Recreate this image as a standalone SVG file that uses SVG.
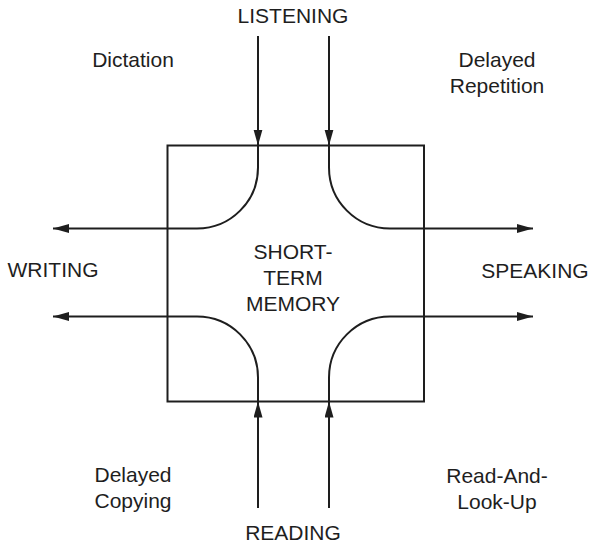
<svg xmlns="http://www.w3.org/2000/svg" width="590" height="545" viewBox="0 0 590 545">
  <style>
    .ln { fill: none; stroke: #1e1e1e; stroke-width: 2; }
    .lbl { font-family: "Liberation Sans", Arial, sans-serif; font-size: 21px; fill: #1e1e1e; text-anchor: middle; }
  </style>
  <defs>
    <marker id="arrow" markerUnits="userSpaceOnUse" markerWidth="17" markerHeight="10" refX="16" refY="4.5" orient="auto">
      <path d="M0,0 L16,4.5 L0,9 Z" fill="#1e1e1e"/>
    </marker>
  </defs>
  <rect width="590" height="545" fill="#ffffff"/>

  <!-- central store -->
  <g id="memory">
    <rect class="ln" x="167.5" y="145.5" width="256.5" height="256"/>
    <text class="lbl" x="293" y="259">SHORT-</text>
    <text class="lbl" x="293" y="285">TERM</text>
    <text class="lbl" x="293" y="311">MEMORY</text>
  </g>

  <!-- skill labels -->
  <g id="listening"><text class="lbl" x="293" y="23">LISTENING</text></g>
  <g id="reading"><text class="lbl" x="293" y="540">READING</text></g>
  <g id="writing"><text class="lbl" x="53" y="277">WRITING</text></g>
  <g id="speaking"><text class="lbl" x="535" y="278">SPEAKING</text></g>

  <!-- activity labels -->
  <g id="dictation"><text class="lbl" x="133" y="67">Dictation</text></g>
  <g id="delayed-repetition">
    <text class="lbl" x="497" y="67">Delayed</text>
    <text class="lbl" x="497" y="93">Repetition</text>
  </g>
  <g id="delayed-copying">
    <text class="lbl" x="133" y="482">Delayed</text>
    <text class="lbl" x="133" y="508">Copying</text>
  </g>
  <g id="read-and-look-up">
    <text class="lbl" x="497" y="483">Read-And-</text>
    <text class="lbl" x="497" y="509">Look-Up</text>
  </g>

  <!-- connectors -->
  <g id="connectors">
    <!-- inputs -->
    <line class="ln" x1="258" y1="36" x2="258" y2="145.5" marker-end="url(#arrow)"/>
    <line class="ln" x1="329" y1="36" x2="329" y2="145.5" marker-end="url(#arrow)"/>
    <line class="ln" x1="258" y1="508" x2="258" y2="401.5" marker-end="url(#arrow)"/>
    <line class="ln" x1="329" y1="508" x2="329" y2="401.5" marker-end="url(#arrow)"/>
    <!-- routes through memory to outputs -->
    <path class="ln" d="M258,145.5 V167.5 A61,61 0 0 1 197,228.5 H53" marker-end="url(#arrow)"/>
    <path class="ln" d="M329,145.5 V167.5 A61,61 0 0 0 390,228.5 H533" marker-end="url(#arrow)"/>
    <path class="ln" d="M258,401.5 V377.5 A61,61 0 0 0 197,316.5 H53" marker-end="url(#arrow)"/>
    <path class="ln" d="M329,401.5 V377.5 A61,61 0 0 1 390,316.5 H533" marker-end="url(#arrow)"/>
  </g>
</svg>
